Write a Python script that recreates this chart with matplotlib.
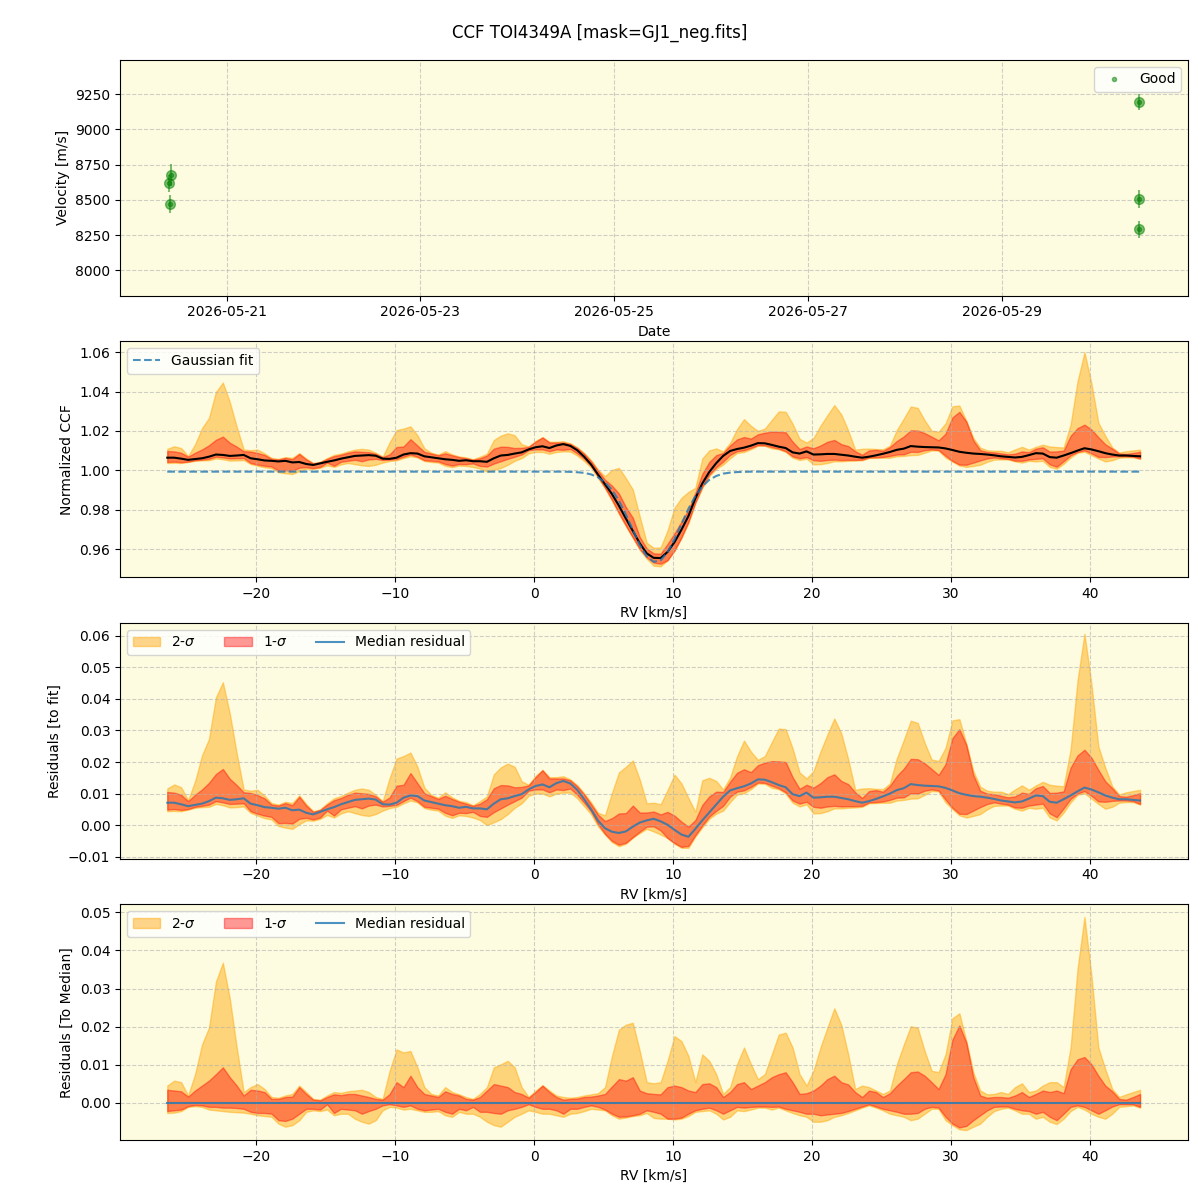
import numpy as np
import matplotlib
matplotlib.use('Agg')
import matplotlib.pyplot as plt
import matplotlib.dates as mdates

# --- RV time series (top panel) ---
obs_time = np.array(['2026-05-20T09:38', '2026-05-20T10:08', '2026-05-20T09:53',
                     '2026-05-30T10:10', '2026-05-30T10:00', '2026-05-30T10:05'],
                    dtype='datetime64[m]')
obs_vel = [8618, 8675, 8469, 9193, 8504, 8291]
obs_err = [60, 80, 65, 57, 64, 60]

# --- CCF on the RV grid (km/s) ---
rv = np.linspace(-26.4, 43.6, 141)

# gaussian fit
fit = [0.9993] * 58 + [
    0.9992, 0.9990, 0.9987, 0.9979, 0.9964, 0.9939, 0.9900, 0.9845, 0.9775, 0.9697,
    0.9621, 0.9563, 0.9535, 0.9542, 0.9584, 0.9650, 0.9728, 0.9804, 0.9869, 0.9918,
    0.9951, 0.9971, 0.9983, 0.9988, 0.9991, 0.9992] + [0.9993] * 57

# median residual to the fit
resid = [
    0.0071, 0.0071, 0.0066, 0.0060, 0.0064, 0.0068, 0.0076, 0.0087, 0.0085, 0.0080,
    0.0082, 0.0085, 0.0068, 0.0063, 0.0057, 0.0055, 0.0052, 0.0055, 0.0047, 0.0049,
    0.0039, 0.0034, 0.0042, 0.0050, 0.0057, 0.0066, 0.0073, 0.0080, 0.0082, 0.0084,
    0.0081, 0.0066, 0.0065, 0.0071, 0.0087, 0.0094, 0.0092, 0.0078, 0.0073, 0.0068,
    0.0063, 0.0060, 0.0055, 0.0058, 0.0053, 0.0053, 0.0050, 0.0068, 0.0082, 0.0085,
    0.0092, 0.0098, 0.0113, 0.0124, 0.0129, 0.0120, 0.0133, 0.0140, 0.0132, 0.0112,
    0.0082, 0.0050, 0.0014, -0.0010, -0.0021, -0.0025, -0.0020, -0.0005, 0.0008, 0.0015,
    0.0020, 0.0012, 0.0001, -0.0015, -0.0030, -0.0037, -0.0012, 0.0015, 0.0040, 0.0065,
    0.0090, 0.0110, 0.0117, 0.0123, 0.0132, 0.0145, 0.0144, 0.0136, 0.0127, 0.0120,
    0.0098, 0.0092, 0.0103, 0.0087, 0.0088, 0.0090, 0.0090, 0.0086, 0.0082, 0.0076,
    0.0071, 0.0076, 0.0083, 0.0091, 0.0100, 0.0111, 0.0117, 0.0130, 0.0127, 0.0125,
    0.0124, 0.0123, 0.0118, 0.0110, 0.0101, 0.0096, 0.0092, 0.0090, 0.0087, 0.0083,
    0.0078, 0.0075, 0.0072, 0.0075, 0.0084, 0.0094, 0.0092, 0.0074, 0.0071, 0.0082,
    0.0094, 0.0107, 0.0119, 0.0113, 0.0104, 0.0094, 0.0087, 0.0082, 0.0082, 0.0080,
    0.0078]

# percentile bands relative to the median CCF
lo2 = [
    -0.0027, -0.0026, -0.0022, -0.0011, -0.0009, -0.0011, -0.0018, -0.0020, -0.0022, -0.0024,
    -0.0025, -0.0026, -0.0029, -0.0033, -0.0035, -0.0037, -0.0055, -0.0063, -0.0059, -0.0046,
    -0.0024, -0.0020, -0.0022, -0.0018, -0.0033, -0.0029, -0.0029, -0.0042, -0.0050, -0.0055,
    -0.0046, -0.0020, -0.0011, -0.0013, -0.0018, -0.0016, -0.0020, -0.0024, -0.0024, -0.0022,
    -0.0033, -0.0037, -0.0024, -0.0029, -0.0029, -0.0037, -0.0050, -0.0059, -0.0063, -0.0050,
    -0.0037, -0.0029, -0.0020, -0.0024, -0.0029, -0.0029, -0.0033, -0.0037, -0.0029, -0.0027,
    -0.0022, -0.0016, -0.0018, -0.0020, -0.0033, -0.0042, -0.0039, -0.0035, -0.0033, -0.0027,
    -0.0040, -0.0042, -0.0042, -0.0044, -0.0042, -0.0035, -0.0024, -0.0022, -0.0020, -0.0029,
    -0.0044, -0.0037, -0.0020, -0.0022, -0.0018, -0.0013, -0.0013, -0.0018, -0.0013, -0.0020,
    -0.0027, -0.0033, -0.0037, -0.0050, -0.0050, -0.0046, -0.0037, -0.0033, -0.0027, -0.0020,
    -0.0013, -0.0007, -0.0013, -0.0020, -0.0029, -0.0033, -0.0037, -0.0046, -0.0042, -0.0029,
    -0.0016, -0.0016, -0.0046, -0.0059, -0.0070, -0.0072, -0.0063, -0.0055, -0.0037, -0.0022,
    -0.0016, -0.0013, -0.0020, -0.0029, -0.0029, -0.0042, -0.0037, -0.0050, -0.0056, -0.0042,
    -0.0022, -0.0011, -0.0018, -0.0029, -0.0037, -0.0042, -0.0029, -0.0011, -0.0009, -0.0007,
    -0.0013]
lo1 = [
    -0.0022, -0.0020, -0.0018, -0.0009, -0.0006, -0.0007, -0.0011, -0.0011, -0.0013, -0.0013,
    -0.0014, -0.0016, -0.0024, -0.0027, -0.0027, -0.0029, -0.0046, -0.0048, -0.0042, -0.0029,
    -0.0016, -0.0016, -0.0018, -0.0004, -0.0027, -0.0016, -0.0018, -0.0020, -0.0029, -0.0022,
    -0.0016, -0.0007, -0.0004, -0.0007, -0.0011, -0.0007, -0.0016, -0.0020, -0.0018, -0.0016,
    -0.0024, -0.0029, -0.0016, -0.0020, -0.0011, -0.0024, -0.0024, -0.0027, -0.0029, -0.0020,
    -0.0016, -0.0011, -0.0004, -0.0011, -0.0016, -0.0016, -0.0020, -0.0029, -0.0016, -0.0016,
    -0.0011, -0.0007, -0.0011, -0.0018, -0.0029, -0.0037, -0.0036, -0.0033, -0.0029, -0.0020,
    -0.0024, -0.0029, -0.0042, -0.0042, -0.0039, -0.0029, -0.0020, -0.0016, -0.0013, -0.0020,
    -0.0029, -0.0020, -0.0011, -0.0013, -0.0011, -0.0010, -0.0010, -0.0011, -0.0010, -0.0016,
    -0.0020, -0.0024, -0.0029, -0.0029, -0.0033, -0.0031, -0.0029, -0.0027, -0.0022, -0.0016,
    -0.0010, -0.0004, -0.0010, -0.0016, -0.0020, -0.0024, -0.0029, -0.0029, -0.0027, -0.0016,
    -0.0011, -0.0013, -0.0037, -0.0055, -0.0065, -0.0061, -0.0046, -0.0033, -0.0020, -0.0011,
    -0.0010, -0.0010, -0.0016, -0.0020, -0.0022, -0.0029, -0.0024, -0.0037, -0.0046, -0.0029,
    -0.0011, -0.0007, -0.0011, -0.0020, -0.0029, -0.0020, -0.0010, -0.0004, -0.0004, -0.0004,
    -0.0011]
hi1 = [
    0.0034, 0.0032, 0.0030, 0.0016, 0.0032, 0.0045, 0.0058, 0.0075, 0.0093, 0.0067,
    0.0045, 0.0019, 0.0034, 0.0032, 0.0028, 0.0010, 0.0010, 0.0015, 0.0016, 0.0041,
    0.0023, 0.0008, 0.0006, 0.0015, 0.0022, 0.0020, 0.0023, 0.0023, 0.0019, 0.0015,
    0.0010, 0.0008, 0.0023, 0.0054, 0.0041, 0.0071, 0.0041, 0.0023, 0.0019, 0.0015,
    0.0030, 0.0023, 0.0019, 0.0010, 0.0008, 0.0015, 0.0032, 0.0049, 0.0045, 0.0041,
    0.0028, 0.0023, 0.0013, 0.0028, 0.0045, 0.0028, 0.0015, 0.0008, 0.0010, 0.0011,
    0.0015, 0.0016, 0.0019, 0.0023, 0.0043, 0.0062, 0.0058, 0.0067, 0.0032, 0.0025,
    0.0023, 0.0022, 0.0041, 0.0045, 0.0041, 0.0032, 0.0028, 0.0049, 0.0051, 0.0041,
    0.0015, 0.0028, 0.0049, 0.0054, 0.0036, 0.0045, 0.0054, 0.0067, 0.0075, 0.0080,
    0.0054, 0.0023, 0.0025, 0.0032, 0.0045, 0.0062, 0.0071, 0.0054, 0.0048, 0.0028,
    0.0015, 0.0032, 0.0028, 0.0015, 0.0025, 0.0045, 0.0062, 0.0080, 0.0082, 0.0071,
    0.0054, 0.0036, 0.0075, 0.0166, 0.0203, 0.0158, 0.0067, 0.0019, 0.0013, 0.0015,
    0.0015, 0.0013, 0.0019, 0.0028, 0.0015, 0.0023, 0.0032, 0.0028, 0.0032, 0.0025,
    0.0088, 0.0114, 0.0120, 0.0101, 0.0071, 0.0045, 0.0030, 0.0010, 0.0008, 0.0015,
    0.0023]
hi2 = [
    0.0045, 0.0058, 0.0054, 0.0019, 0.0075, 0.0153, 0.0197, 0.0318, 0.0368, 0.0274,
    0.0145, 0.0028, 0.0041, 0.0049, 0.0036, 0.0015, 0.0013, 0.0019, 0.0023, 0.0045,
    0.0028, 0.0010, 0.0008, 0.0019, 0.0028, 0.0026, 0.0030, 0.0032, 0.0034, 0.0028,
    0.0015, 0.0010, 0.0084, 0.0140, 0.0132, 0.0136, 0.0093, 0.0041, 0.0023, 0.0019,
    0.0041, 0.0028, 0.0022, 0.0015, 0.0010, 0.0023, 0.0041, 0.0093, 0.0101, 0.0110,
    0.0093, 0.0041, 0.0015, 0.0032, 0.0046, 0.0032, 0.0019, 0.0015, 0.0013, 0.0015,
    0.0019, 0.0022, 0.0025, 0.0041, 0.0123, 0.0192, 0.0205, 0.0210, 0.0136, 0.0054,
    0.0051, 0.0054, 0.0110, 0.0175, 0.0162, 0.0123, 0.0054, 0.0127, 0.0110, 0.0075,
    0.0023, 0.0041, 0.0101, 0.0145, 0.0101, 0.0062, 0.0075, 0.0127, 0.0179, 0.0184,
    0.0145, 0.0075, 0.0045, 0.0084, 0.0145, 0.0197, 0.0248, 0.0205, 0.0127, 0.0036,
    0.0045, 0.0041, 0.0032, 0.0023, 0.0032, 0.0101, 0.0153, 0.0201, 0.0197, 0.0136,
    0.0084, 0.0080, 0.0127, 0.0222, 0.0235, 0.0162, 0.0080, 0.0032, 0.0022, 0.0023,
    0.0028, 0.0023, 0.0041, 0.0051, 0.0028, 0.0032, 0.0045, 0.0054, 0.0054, 0.0041,
    0.0145, 0.0352, 0.0488, 0.0335, 0.0145, 0.0088, 0.0036, 0.0015, 0.0022, 0.0028,
    0.0034]

fit = np.array(fit)
resid = np.array(resid)
lo2, lo1, hi1, hi2 = map(np.array, (lo2, lo1, hi1, hi2))
med = fit + resid

bg = '#fefce0'
fig, axes = plt.subplots(4, 1, figsize=(12, 12), dpi=100)
fig.subplots_adjust(left=0.1, right=0.99, top=0.95, bottom=0.05, hspace=0.195)
fig.suptitle('CCF TOI4349A [mask=GJ1_neg.fits]', fontsize=12, y=0.98)

for ax in axes:
    ax.set_facecolor(bg)
    ax.grid(True, linestyle='--', alpha=0.6)

# top: velocities
ax = axes[0]
ax.errorbar(obs_time, obs_vel, yerr=obs_err, fmt='o', color='green', alpha=0.5, ms=7)
ax.plot(obs_time, obs_vel, '.', color='green', alpha=0.5, label='Good')
ax.set_ylim(7822, 9491)
ax.xaxis.set_major_locator(mdates.DayLocator(bymonthday=range(1, 32, 2)))
ax.xaxis.set_major_formatter(mdates.DateFormatter('%Y-%m-%d'))
ax.set_xlabel('Date')
ax.set_ylabel('Velocity [m/s]')
ax.legend(loc='upper right')

# CCF
ax = axes[1]
ax.fill_between(rv, med + lo2, med + hi2, color='orange', alpha=0.45)
ax.fill_between(rv, med + lo1, med + hi1, color='red', alpha=0.4)
ax.plot(rv, med, color='black', lw=1.5)
ax.plot(rv, fit, '--', color='tab:blue', alpha=0.8, lw=1.5, label='Gaussian fit')
ax.set_xlabel('RV [km/s]')
ax.set_ylabel('Normalized CCF')
ax.legend(loc='upper left')

# residuals to fit
ax = axes[2]
ax.fill_between(rv, resid + lo2, resid + hi2, color='orange', alpha=0.45, label='2-$\\sigma$')
ax.fill_between(rv, resid + lo1, resid + hi1, color='red', alpha=0.4, label='1-$\\sigma$')
ax.plot(rv, resid, color='tab:blue', alpha=0.8, lw=1.5, label='Median residual')
ax.set_xlabel('RV [km/s]')
ax.set_ylabel('Residuals [to fit]')
ax.legend(loc='upper left', ncol=3)

# residuals to median
ax = axes[3]
ax.fill_between(rv, lo2, hi2, color='orange', alpha=0.45, label='2-$\\sigma$')
ax.fill_between(rv, lo1, hi1, color='red', alpha=0.4, label='1-$\\sigma$')
ax.plot(rv, np.zeros_like(rv), color='tab:blue', alpha=0.8, lw=1.5, label='Median residual')
ax.set_ylim(-0.0098, 0.0521)
ax.set_xlabel('RV [km/s]')
ax.set_ylabel('Residuals [To Median]')
ax.legend(loc='upper left', ncol=3)

for ax in axes[1:]:
    ax.set_xlim(-29.8, 47.05)

fig.savefig('out.png', dpi=100)
